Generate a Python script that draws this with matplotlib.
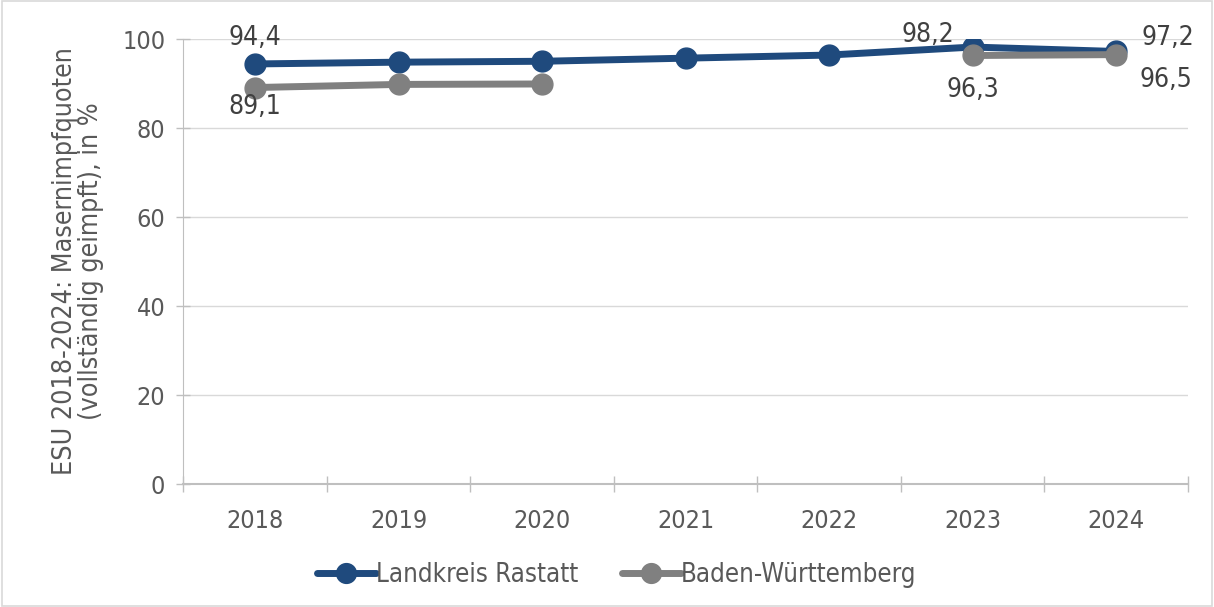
import matplotlib
matplotlib.use("Agg")
import matplotlib.pyplot as plt
import numpy as np
from matplotlib.patches import Rectangle

years = ["2018", "2019", "2020", "2021", "2022", "2023", "2024"]
rastatt = [94.4, 94.8, 95.0, 95.7, 96.4, 98.2, 97.2]
bw = [89.1, 89.8, 89.9, np.nan, np.nan, 96.3, 96.5]
yticks = [0, 20, 40, 60, 80, 100]

plt.rcParams['font.family'] = ['DejaVu Sans']
plt.rcParams['font.stretch'] = 'condensed'
text_c = "#404040"
tick_c = "#595959"
c_r = "#1F4A7D"
c_b = "#808080"

fig = plt.figure(figsize=(12.14, 6.07), dpi=100)
ax = fig.add_axes([0.151, 0.2026, 0.8276, 0.7331])
x = np.arange(len(years))

ax.plot(x, rastatt, color=c_r, lw=5, marker='o', ms=15, label="Landkreis Rastatt", zorder=3, solid_capstyle='round')
ax.plot(x, bw, color=c_b, lw=5, marker='o', ms=15, label="Baden-Württemberg", zorder=4, solid_capstyle='round')

ax.set_xlim(-0.5, len(years) - 0.5)
ax.set_ylim(0, 100)
ax.set_yticks(yticks)
ax.set_yticklabels([str(v) for v in yticks])
ax.set_xticks(x)
ax.set_xticklabels(years)
ax.set_xticks(np.arange(-0.5, len(years)), minor=True)
ax.tick_params(axis='x', which='major', length=0, pad=18, labelsize=18, labelcolor=tick_c)
ax.tick_params(axis='x', which='minor', length=12, direction='inout', color='#BFBFBF', width=1)
ax.tick_params(axis='y', length=10, direction='inout', color='#BFBFBF', width=1, labelsize=18, labelcolor=tick_c, pad=8)
ax.grid(axis='y', color='#D9D9D9', lw=1)
ax.set_axisbelow(True)
for s in ['top', 'right']:
    ax.spines[s].set_visible(False)
ax.spines['left'].set_color('#BFBFBF')
ax.spines['bottom'].set_color('#BFBFBF')
ax.spines['bottom'].set_linewidth(1.5)

ax.set_ylabel("ESU 2018-2024: Masernimpfquoten\n(vollständig geimpft), in %", fontsize=19.3, color=tick_c,
              labelpad=13, linespacing=1.0)

def lab(val, xi, yi, dx, dy, ha):
    ax.annotate(f"{val:.1f}".replace('.', ','), (xi, yi), xytext=(dx, dy), textcoords='offset points',
                ha=ha, va='center', fontsize=19, color=text_c, zorder=6)

lab(rastatt[0], 0, rastatt[0], 0, 19, 'center')
lab(bw[0], 0, bw[0], 0, -14, 'center')
lab(rastatt[5], 5, rastatt[5], -13, 9, 'right')
lab(bw[5], 5, bw[5], 0, -25, 'center')
lab(rastatt[6], 6, rastatt[6], 18, 10, 'left')
lab(bw[6], 6, bw[6], 17, -18, 'left')

leg = fig.legend(loc='center', bbox_to_anchor=(0.508, 0.052), ncol=2, frameon=False, fontsize=18.5,
                 handlelength=2.3, handletextpad=0.0, columnspacing=1.7, markerscale=0.95)
for t in leg.get_texts():
    t.set_color(tick_c)

fig.patches.append(Rectangle((0.002, 0.002), 0.996, 0.996, transform=fig.transFigure,
                             fill=False, edgecolor='#D9D9D9', lw=1.2))

fig.savefig("out.png", dpi=100)
